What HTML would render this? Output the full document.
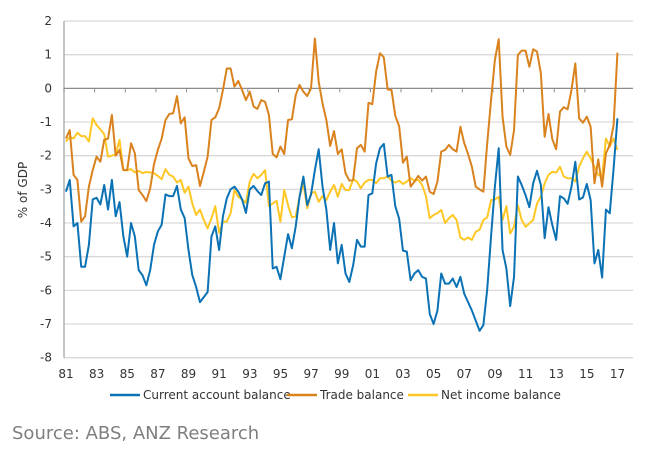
<!DOCTYPE html>
<html><head><meta charset="utf-8"><style>
html,body{margin:0;padding:0;background:#fff;}
svg text{font-family:"DejaVu Sans","Liberation Sans",sans-serif;}
</style></head><body>
<svg width="648" height="450" viewBox="0 0 648 450" id="chart">
<g id="grid"></g>
<g id="axes"></g>
<g id="series"></g>
<text x="27" y="190" font-size="12" fill="#333" text-anchor="middle" transform="rotate(-90 27 190)">% of GDP</text>
<g>
<g><line x1="110" y1="395" x2="140" y2="395" stroke="#0a72b5" stroke-width="2.5"/><text x="143" y="399" font-size="12" fill="#333">Current account balance</text></g>
<g><line x1="287" y1="395" x2="317" y2="395" stroke="#d9821e" stroke-width="2.5"/><text x="320" y="399" font-size="12" fill="#333">Trade balance</text></g>
<g><line x1="408" y1="395" x2="438" y2="395" stroke="#ffc726" stroke-width="2.5"/><text x="441" y="399" font-size="12" fill="#333">Net income balance</text></g>
</g>
<text x="12" y="439" font-size="18" fill="#7f7f7f">Source: ABS, ANZ Research</text>
</svg>
<script>
const yTicks=[2,1,0,-1,-2,-3,-4,-5,-6,-7,-8];
const xLabels=["81","83","85","87","89","91","93","95","97","99","01","03","05","07","09","11","13","15","17"];
const currentAccount=[-3.07,-2.72,-4.1,-4.0,-5.3,-5.3,-4.65,-3.3,-3.25,-3.45,-2.87,-3.6,-2.72,-3.8,-3.38,-4.4,-5.0,-4.0,-4.4,-5.4,-5.55,-5.85,-5.4,-4.65,-4.25,-4.05,-3.15,-3.2,-3.2,-2.9,-3.6,-3.85,-4.8,-5.55,-5.9,-6.35,-6.2,-6.05,-4.4,-4.1,-4.8,-3.8,-3.27,-3.0,-2.92,-3.07,-3.3,-3.7,-3.0,-2.9,-3.05,-3.17,-2.82,-2.77,-5.35,-5.3,-5.67,-5.0,-4.33,-4.75,-4.1,-3.22,-2.62,-3.47,-3.15,-2.43,-1.81,-2.92,-3.6,-4.8,-4.0,-5.2,-4.65,-5.5,-5.75,-5.25,-4.5,-4.7,-4.7,-3.17,-3.12,-2.23,-1.78,-1.65,-2.62,-2.57,-3.5,-3.87,-4.82,-4.85,-5.7,-5.5,-5.4,-5.6,-5.65,-6.7,-7.0,-6.6,-5.5,-5.8,-5.8,-5.65,-5.9,-5.6,-6.1,-6.35,-6.6,-6.9,-7.2,-7.03,-5.97,-4.4,-2.92,-1.78,-4.8,-5.35,-6.47,-5.6,-2.62,-2.87,-3.17,-3.53,-2.82,-2.45,-2.87,-4.45,-3.53,-4.06,-4.5,-3.2,-3.27,-3.43,-2.92,-2.18,-3.3,-3.24,-2.84,-3.32,-5.2,-4.8,-5.62,-3.6,-3.71,-2.38,-0.89];
const tradeBalance=[-1.49,-1.24,-2.57,-2.72,-3.96,-3.8,-2.92,-2.43,-2.03,-2.18,-1.53,-1.49,-0.79,-2.0,-1.83,-2.43,-2.43,-1.63,-1.93,-3.02,-3.17,-3.35,-2.97,-2.25,-1.83,-1.49,-0.94,-0.76,-0.74,-0.23,-1.04,-0.86,-2.08,-2.31,-2.28,-2.9,-2.48,-2.03,-0.94,-0.86,-0.59,-0.05,0.59,0.59,0.05,0.22,-0.05,-0.35,-0.1,-0.54,-0.61,-0.35,-0.4,-0.79,-1.95,-2.05,-1.73,-1.95,-0.94,-0.92,-0.2,0.1,-0.1,-0.23,0.0,1.48,0.2,-0.45,-0.94,-1.71,-1.27,-1.95,-1.81,-2.52,-2.74,-2.72,-1.78,-1.68,-1.88,-0.43,-0.47,0.5,1.04,0.92,-0.03,-0.05,-0.82,-1.12,-2.21,-2.03,-2.92,-2.77,-2.6,-2.74,-2.62,-3.07,-3.14,-2.77,-1.88,-1.83,-1.68,-1.81,-1.88,-1.14,-1.63,-1.95,-2.33,-2.92,-3.0,-3.07,-1.63,-0.35,0.84,1.46,-0.84,-1.73,-1.98,-1.24,0.99,1.12,1.12,0.64,1.16,1.09,0.45,-1.44,-0.76,-1.51,-1.81,-0.69,-0.56,-0.62,-0.05,0.74,-0.89,-1.02,-0.84,-1.14,-2.82,-2.11,-2.92,-1.93,-1.68,-1.09,1.06];
const netIncome=[-1.58,-1.44,-1.49,-1.32,-1.42,-1.42,-1.58,-0.89,-1.09,-1.22,-1.36,-2.03,-2.0,-1.96,-1.53,-2.43,-2.43,-2.4,-2.5,-2.45,-2.52,-2.48,-2.5,-2.52,-2.6,-2.7,-2.4,-2.57,-2.62,-2.8,-2.72,-3.1,-2.92,-3.42,-3.76,-3.6,-3.91,-4.16,-3.86,-3.5,-4.29,-3.96,-3.96,-3.71,-3.02,-3.22,-3.3,-3.4,-2.77,-2.54,-2.67,-2.57,-2.43,-3.5,-3.42,-3.34,-3.96,-3.02,-3.47,-3.83,-3.8,-3.22,-2.82,-3.56,-3.12,-3.07,-3.37,-3.2,-3.32,-3.07,-2.87,-3.22,-2.84,-3.02,-3.02,-2.7,-2.77,-2.97,-2.8,-2.72,-2.72,-2.82,-2.67,-2.67,-2.62,-2.74,-2.8,-2.74,-2.84,-2.77,-2.67,-2.74,-2.72,-2.87,-3.2,-3.86,-3.76,-3.71,-3.61,-4.0,-3.86,-3.76,-3.91,-4.43,-4.5,-4.43,-4.5,-4.26,-4.2,-3.91,-3.83,-3.32,-3.3,-3.22,-3.91,-3.5,-4.31,-4.11,-3.47,-3.91,-4.11,-4.01,-3.91,-3.42,-3.22,-2.82,-2.57,-2.48,-2.5,-2.33,-2.62,-2.67,-2.67,-2.77,-2.33,-2.08,-1.88,-2.08,-2.33,-2.57,-2.62,-1.49,-1.73,-1.49,-1.83];

const NS="http://www.w3.org/2000/svg";
const X0=64,X1=633,Y0=21,Y1=357.7,QW=3.83;
function yScale(v){return Y0+(2-v)/10*(Y1-Y0);}
function xScale(i){return X0+(i+0.5)*QW;}
function mk(tag,attrs,parent){const e=document.createElementNS(NS,tag);for(const k in attrs)e.setAttribute(k,attrs[k]);parent.appendChild(e);return e;}
const grid=document.getElementById('grid'),axes=document.getElementById('axes'),series=document.getElementById('series');
yTicks.forEach(v=>{
  const y=yScale(v);
  if(v!==0){const l=mk('line',{x1:X0,x2:X1,y1:y,y2:y,stroke:'#d9d9d9','stroke-width':1.3},grid);
  
  }
  const t=mk('text',{x:52,y:y+4,'font-size':12,fill:'#333','text-anchor':'end'},axes);
  t.textContent=String(v);
  
  
});
const ya=mk('line',{x1:X0,x2:X0,y1:Y0,y2:Y1,stroke:'#a6a6a6','stroke-width':1.3},axes);


const y0=yScale(0);
const xa=mk('line',{x1:X0,x2:X1,y1:y0,y2:y0,stroke:'#8c8c8c','stroke-width':1.3},axes);


xLabels.forEach((lab,k)=>{
  const x=X0+k*8*QW;
  const tk=mk('line',{x1:x,x2:x,y1:y0,y2:y0+4,stroke:'#8c8c8c','stroke-width':1},axes);
  
  
  const t=mk('text',{x:x+2,y:378,'font-size':12,fill:'#333','text-anchor':'middle'},axes);
  t.textContent=lab;
  
  
});
function draw(data,color,name){
  const d=data.map((v,i)=>(i?'L':'M')+xScale(i).toFixed(2)+','+yScale(v).toFixed(2)).join('');
  const p=mk('path',{d:d,fill:'none',stroke:color,'stroke-width':2,'stroke-linejoin':'round'},series);
  
  
}
draw(netIncome,'#ffc726','net-income-line');
draw(tradeBalance,'#d9821e','trade-balance-line');
draw(currentAccount,'#0a72b5','current-account-line');
</script>
</body></html>
